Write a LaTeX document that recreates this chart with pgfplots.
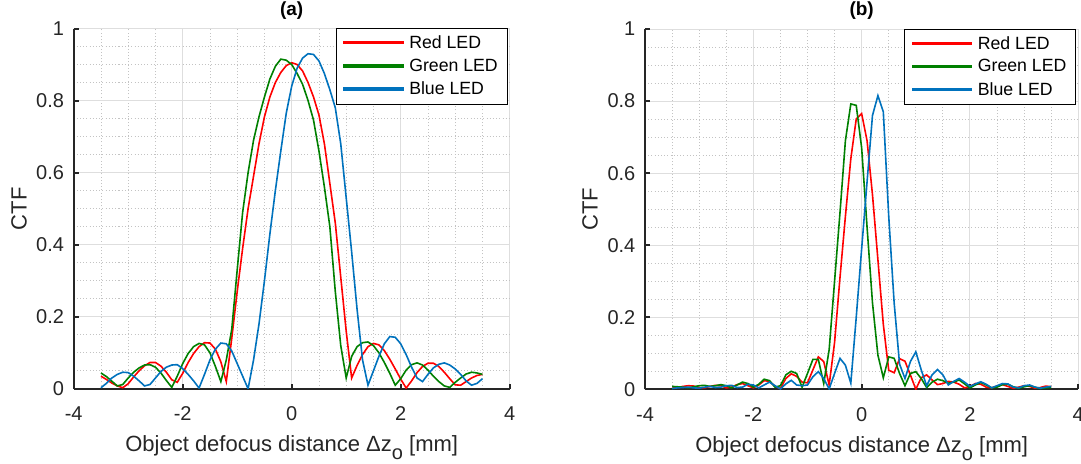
\documentclass[border=0pt]{standalone}
\usepackage{fontspec}
\setmainfont{Liberation Sans}
\usepackage{pgfplots}
\usepackage{pgfplotstable}
\pgfplotsset{compat=1.18}

\definecolor{mred}{RGB}{255,0,0}
\definecolor{mgreen}{RGB}{0,128,0}
\definecolor{mblue}{RGB}{0,114,189}
\definecolor{axcol}{RGB}{38,38,38}
\definecolor{gridmaj}{RGB}{222,222,222}
\definecolor{gridmin}{RGB}{195,195,195}

% (a) CTF vs defocus, step 0.1 mm
\pgfplotstableread{
x r g b
-3.5 0.035 0.044 0.003
-3.4 0.026 0.034 0.015
-3.3 0.016 0.021 0.030
-3.2 0.008 0.008 0.040
-3.1 0.003 0.012 0.046
-3.0 0.014 0.030 0.045
-2.9 0.033 0.046 0.035
-2.8 0.050 0.058 0.022
-2.7 0.064 0.066 0.008
-2.6 0.073 0.067 0.012
-2.5 0.073 0.060 0.030
-2.4 0.063 0.044 0.048
-2.3 0.046 0.023 0.060
-2.2 0.025 0.004 0.066
-2.1 0.018 0.035 0.067
-2.0 0.043 0.070 0.056
-1.9 0.073 0.098 0.040
-1.8 0.098 0.117 0.022
-1.7 0.117 0.126 0.002
-1.6 0.128 0.122 0.040
-1.5 0.127 0.100 0.080
-1.4 0.110 0.062 0.110
-1.3 0.075 0.020 0.127
-1.2 0.020 0.080 0.125
-1.1 0.140 0.165 0.105
-1.0 0.270 0.330 0.070
-0.9 0.390 0.490 0.035
-0.8 0.500 0.600 0.000
-0.7 0.590 0.690 0.080
-0.6 0.680 0.755 0.180
-0.5 0.755 0.810 0.300
-0.4 0.810 0.860 0.430
-0.3 0.850 0.895 0.550
-0.2 0.878 0.915 0.660
-0.1 0.897 0.912 0.765
0.0 0.905 0.900 0.840
0.1 0.900 0.875 0.890
0.2 0.882 0.845 0.918
0.3 0.850 0.800 0.930
0.4 0.810 0.746 0.928
0.5 0.760 0.660 0.910
0.6 0.680 0.560 0.875
0.7 0.570 0.450 0.830
0.8 0.460 0.270 0.780
0.9 0.310 0.120 0.680
1.0 0.160 0.030 0.530
1.1 0.030 0.090 0.380
1.2 0.065 0.117 0.220
1.3 0.095 0.128 0.080
1.4 0.117 0.130 0.010
1.5 0.126 0.120 0.050
1.6 0.122 0.100 0.090
1.7 0.106 0.073 0.125
1.8 0.082 0.043 0.145
1.9 0.055 0.010 0.143
2.0 0.027 0.028 0.125
2.1 0.002 0.052 0.095
2.2 0.022 0.067 0.060
2.3 0.045 0.072 0.030
2.4 0.062 0.066 0.020
2.5 0.071 0.052 0.040
2.6 0.071 0.035 0.058
2.7 0.062 0.020 0.068
2.8 0.046 0.008 0.072
2.9 0.028 0.004 0.066
3.0 0.011 0.018 0.055
3.1 0.010 0.030 0.040
3.2 0.020 0.041 0.022
3.3 0.030 0.046 0.010
3.4 0.037 0.044 0.015
3.5 0.040 0.040 0.028
}\dataA

% (b)
\pgfplotstableread{
x r g b
-3.5 0.003 0.008 0.002
-3.4 0.005 0.007 0.004
-3.3 0.008 0.006 0.005
-3.2 0.010 0.004 0.006
-3.1 0.009 0.007 0.004
-3.0 0.005 0.010 0.003
-2.9 0.004 0.011 0.006
-2.8 0.008 0.008 0.008
-2.7 0.011 0.010 0.005
-2.6 0.010 0.013 0.006
-2.5 0.004 0.010 0.010
-2.4 0.006 0.004 0.011
-2.3 0.013 0.012 0.005
-2.2 0.016 0.020 0.006
-2.1 0.010 0.016 0.014
-2.0 0.004 0.006 0.012
-1.9 0.012 0.014 0.004
-1.8 0.024 0.028 0.012
-1.7 0.022 0.024 0.020
-1.6 0.008 0.006 0.010
-1.5 0.002 0.010 0.001
-1.4 0.030 0.040 0.015
-1.3 0.043 0.050 0.025
-1.2 0.036 0.044 0.012
-1.1 0.020 0.006 0.010
-1.0 0.018 0.044 0.012
-0.9 0.054 0.083 0.035
-0.8 0.090 0.083 0.049
-0.7 0.077 0.016 0.030
-0.6 0.012 0.110 0.001
-0.5 0.130 0.300 0.044
-0.4 0.310 0.490 0.086
-0.3 0.480 0.690 0.067
-0.2 0.640 0.792 0.017
-0.1 0.750 0.788 0.200
0.0 0.765 0.670 0.390
0.1 0.690 0.450 0.576
0.2 0.540 0.240 0.760
0.3 0.360 0.095 0.815
0.4 0.180 0.032 0.770
0.5 0.053 0.090 0.480
0.6 0.046 0.086 0.240
0.7 0.085 0.044 0.070
0.8 0.078 0.010 0.030
0.9 0.040 0.044 0.077
1.0 0.000 0.049 0.104
1.1 0.032 0.030 0.054
1.2 0.040 0.005 0.010
1.3 0.026 0.020 0.040
1.4 0.013 0.028 0.055
1.5 0.016 0.024 0.040
1.6 0.022 0.017 0.012
1.7 0.020 0.020 0.022
1.8 0.014 0.026 0.030
1.9 0.004 0.015 0.020
2.0 0.008 0.004 0.008
2.1 0.016 0.012 0.015
2.2 0.014 0.019 0.021
2.3 0.006 0.012 0.014
2.4 0.004 0.004 0.004
2.5 0.009 0.006 0.010
2.6 0.013 0.013 0.016
2.7 0.008 0.014 0.015
2.8 0.003 0.007 0.006
2.9 0.006 0.003 0.004
3.0 0.010 0.007 0.010
3.1 0.008 0.010 0.012
3.2 0.003 0.006 0.006
3.3 0.005 0.002 0.003
3.4 0.009 0.004 0.006
3.5 0.007 0.005 0.008
}\dataB

\pgfplotsset{
  ctf/.style={
    scale only axis, height=360.3pt,
    anchor=south west,
    xmin=-4, xmax=4, ymin=0, ymax=1,
    axis x line*=bottom, axis y line*=left,
    axis line style={-, line width=2pt, color=axcol},
    xtick={-4,-2,0,2,4}, ytick={0,0.2,0.4,0.6,0.8,1},
    minor x tick num=3, minor y tick num=3,
    tick align=inside, major tick length=5pt, minor tick length=0pt,
    major tick style={line width=2pt, color=axcol},
    grid=both,
    major grid style={line width=1pt, color=gridmaj},
    minor grid style={line width=0.8pt, color=gridmin, dash pattern=on 1pt off 2.2pt},
    /pgf/number format/assume math mode=true,
    ticklabel style={font=\fontsize{20}{20}\selectfont, text=axcol},
    xticklabel style={anchor=base, yshift=-32pt},
    yticklabel style={anchor=east, inner sep=0pt, xshift=-9.5pt},
    xlabel={Object defocus distance Δz\raisebox{-8pt}{\fontsize{20}{20}\selectfont o} [mm]},
    xlabel style={at={(axis description cs:0.5,-0.175)}, anchor=base,
      font=\fontsize{22}{22}\selectfont, text=axcol},
    ylabel={CTF},
    ylabel style={anchor=center, font=\fontsize{22}{22}\selectfont, text=axcol},
    title style={at={(axis description cs:0.5,1)}, anchor=base, yshift=7.5pt,
      font=\bfseries\fontsize{19}{19}\selectfont},
    legend cell align=left,
    legend style={at={(rel axis cs:1,1)}, anchor=north east, xshift=-2.7pt, yshift=0.5pt,
      draw=black, fill=white,
      font=\fontsize{17.7}{17.7}\selectfont,
      inner xsep=7pt, inner ysep=5.5pt, row sep=5pt, column sep=3.7pt},
  },
  % legend sample: a filled bar, so no stroke width is involved
  bar legend/.style={legend image code/.code={%
      \fill[#1] (0pt,-0.8pt) rectangle (59pt,0.8pt);}},
}

\begin{document}
\begin{tikzpicture}

\begin{axis}[ctf, width=436pt, at={(73.7pt,-388.8pt)},
  title={(a)},
  ylabel style={at={(axis description cs:-0.1255,0.5)}}]
\addplot[color=mred, line width=1.6pt, bar legend] table[x=x, y=r] {\dataA};
\addlegendentry{Red LED}
\addplot[color=mgreen, line width=1.6pt, bar legend] table[x=x, y=g] {\dataA};
\addlegendentry{Green LED}
\addplot[color=mblue, line width=1.6pt, bar legend] table[x=x, y=b] {\dataA};
\addlegendentry{Blue LED}
\end{axis}

\begin{axis}[ctf, width=433.3pt, at={(645pt,-389.3pt)},
  title={(b)},
  ylabel style={at={(axis description cs:-0.127,0.5)}}]
\addplot[color=mred, line width=1.6pt, bar legend] table[x=x, y=r] {\dataB};
\addlegendentry{Red LED}
\addplot[color=mgreen, line width=1.6pt, bar legend] table[x=x, y=g] {\dataB};
\addlegendentry{Green LED}
\addplot[color=mblue, line width=1.6pt, bar legend] table[x=x, y=b] {\dataB};
\addlegendentry{Blue LED}
\end{axis}

\pgfresetboundingbox
\path[use as bounding box] (0pt,0pt) rectangle (1081pt,-463pt);
\end{tikzpicture}
\end{document}
